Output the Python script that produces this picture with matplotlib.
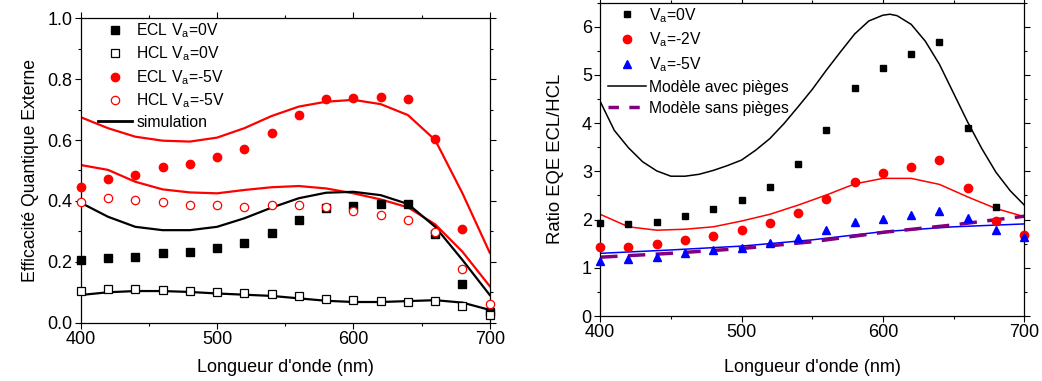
import matplotlib
matplotlib.use("Agg")
import matplotlib.pyplot as plt
from matplotlib.ticker import MultipleLocator

plt.rcParams['font.family'] = ['Liberation Sans', 'DejaVu Sans']
plt.rcParams['mathtext.fontset'] = 'custom'
plt.rcParams['mathtext.rm'] = 'Liberation Sans'
plt.rcParams['mathtext.it'] = 'Liberation Sans'

# ---------------- data: left panel ----------------
wl = [400, 420, 440, 460, 480, 500, 520, 540, 560, 580, 600, 620, 640, 660, 680, 700]
ecl_0v = [0.206, 0.211, 0.217, 0.228, 0.232, 0.245, 0.262, 0.295, 0.336, 0.376, 0.384, 0.389, 0.389, 0.290, 0.126, 0.036]
hcl_0v = [0.105, 0.112, 0.110, 0.107, 0.104, 0.101, 0.096, 0.093, 0.088, 0.079, 0.074, 0.070, 0.067, 0.072, 0.056, 0.025]
wl_ecl5 = [400, 420, 440, 460, 480, 500, 520, 540, 560, 580, 600, 620, 640, 660, 680]
ecl_5v = [0.447, 0.472, 0.486, 0.510, 0.521, 0.545, 0.572, 0.624, 0.682, 0.736, 0.739, 0.740, 0.736, 0.605, 0.308]
hcl_5v = [0.398, 0.411, 0.403, 0.398, 0.386, 0.386, 0.381, 0.388, 0.388, 0.381, 0.367, 0.354, 0.338, 0.299, 0.177, 0.061]

sim_ecl_5v = [0.675, 0.639, 0.611, 0.598, 0.595, 0.608, 0.639, 0.679, 0.710, 0.726, 0.732, 0.718, 0.682, 0.600, 0.425, 0.230]
sim_hcl_5v = [0.518, 0.502, 0.463, 0.438, 0.428, 0.425, 0.436, 0.445, 0.449, 0.441, 0.425, 0.405, 0.379, 0.323, 0.233, 0.120]
sim_ecl_0v = [0.394, 0.348, 0.315, 0.304, 0.304, 0.315, 0.343, 0.378, 0.409, 0.427, 0.430, 0.419, 0.390, 0.315, 0.206, 0.091]
sim_hcl_0v = [0.091, 0.100, 0.104, 0.104, 0.101, 0.096, 0.092, 0.088, 0.080, 0.072, 0.068, 0.068, 0.071, 0.074, 0.066, 0.042]

# ---------------- data: right panel ----------------
wl_r0 = [400, 420, 440, 460, 480, 500, 520, 540, 560, 580, 600, 620, 640, 660, 680]
ratio_0v = [1.935, 1.90, 1.956, 2.08, 2.22, 2.40, 2.68, 3.145, 3.85, 4.74, 5.14, 5.43, 5.69, 3.91, 2.27]
ratio_2v = [1.43, 1.43, 1.49, 1.58, 1.66, 1.78, 1.935, 2.14, 2.43, 2.78, 2.96, 3.10, 3.235, 2.66, 1.98, 1.67]
ratio_5v = [1.15, 1.175, 1.22, 1.30, 1.37, 1.42, 1.51, 1.62, 1.78, 1.96, 2.02, 2.10, 2.18, 2.03, 1.78, 1.645]

wl_mt = [400, 410, 420, 430, 440, 450, 460, 470, 480, 490, 500, 510, 520, 530, 540, 550, 560, 570,
         580, 590, 600, 605, 610, 620, 630, 640, 650, 660, 670, 680, 690, 700]
model_traps = [4.45, 3.85, 3.49, 3.20, 3.01, 2.90, 2.90, 2.94, 3.02, 3.12, 3.235, 3.44, 3.68, 3.99, 4.34, 4.70, 5.10, 5.48,
               5.85, 6.12, 6.24, 6.26, 6.23, 6.05, 5.70, 5.22, 4.62, 4.02, 3.47, 2.98, 2.60, 2.30]
model_2v = [2.11, 1.85, 1.78, 1.80, 1.85, 1.97, 2.11, 2.30, 2.51, 2.74, 2.855, 2.855, 2.73, 2.47, 2.23, 2.06]
wl_m5 = [400, 450, 500, 550, 600, 650, 700]
model_5v = [1.30, 1.37, 1.45, 1.58, 1.75, 1.85, 1.91]
model_notraps = [1.22, 1.30, 1.40, 1.54, 1.735, 1.89, 2.07]

fig = plt.figure(figsize=(10.42, 3.81), dpi=100)
ax1 = fig.add_axes([0.0775, 0.153, 0.3925, 0.799])
ax2 = fig.add_axes([0.576, 0.1706, 0.407, 0.8224])

RED = '#ff0000'
BLUE = '#0000ff'
PURPLE = '#800080'

# left panel
ax1.plot(wl, sim_ecl_5v, color=RED, lw=1.6, zorder=2)
ax1.plot(wl, sim_hcl_5v, color=RED, lw=1.6, zorder=2)
ax1.plot(wl, sim_ecl_0v, color='black', lw=1.6, zorder=2)
ax1.plot(wl, sim_hcl_0v, color='black', lw=1.6, zorder=2)
h1, = ax1.plot(wl, ecl_0v, 's', color='black', ms=5.5, ls='none', zorder=3, clip_on=False)
h2, = ax1.plot(wl, hcl_0v, 's', mfc='white', mec='black', mew=0.9, ms=5.5, ls='none', zorder=3, clip_on=False)
h3, = ax1.plot(wl_ecl5, ecl_5v, 'o', color=RED, ms=6, ls='none', zorder=3, clip_on=False)
h4, = ax1.plot(wl, hcl_5v, 'o', mfc='white', mec=RED, mew=0.9, ms=6, ls='none', zorder=3, clip_on=False)
h5, = ax1.plot([], [], color='black', lw=2)

ax1.set_xlim(400, 700)
ax1.set_ylim(0, 1.0)
ax1.xaxis.set_major_locator(MultipleLocator(100))
ax1.xaxis.set_minor_locator(MultipleLocator(50))
ax1.yaxis.set_major_locator(MultipleLocator(0.2))
ax1.yaxis.set_minor_locator(MultipleLocator(0.1))
ax1.yaxis.set_major_formatter(matplotlib.ticker.FormatStrFormatter('%.1f'))
ax1.set_xlabel("Longueur d'onde (nm)", fontsize=13, labelpad=8)
ax1.set_ylabel("Efficacité Quantique Externe", fontsize=12.7, labelpad=6)
ax1.legend([h1, h2, h3, h4, h5],
           ['ECL V$_\\mathrm{a}$=0V', 'HCL V$_\\mathrm{a}$=0V', 'ECL V$_\\mathrm{a}$=-5V',
            'HCL V$_\\mathrm{a}$=-5V', 'simulation'],
           loc='upper left', bbox_to_anchor=(0.042, 0.99), frameon=False, fontsize=11.3,
           handlelength=2.2, handletextpad=0.25, labelspacing=0.3, borderpad=0, borderaxespad=0)

# right panel
ax2.plot(wl_mt, model_traps, color='black', lw=1.1, zorder=2)
ax2.plot(wl, model_2v, color=RED, lw=1.1, zorder=2)
ax2.plot(wl_m5, model_5v, color=BLUE, lw=1.1, zorder=2)
ax2.plot(wl_m5, model_notraps, color=PURPLE, lw=2.5, ls=(0, (5, 3)), zorder=2)
g1, = ax2.plot(wl_r0, ratio_0v, 's', color='black', ms=5, ls='none', zorder=3, clip_on=False)
g2, = ax2.plot(wl, ratio_2v, 'o', color=RED, ms=6, ls='none', zorder=3, clip_on=False)
g3, = ax2.plot(wl, ratio_5v, '^', color=BLUE, ms=6, ls='none', zorder=3, clip_on=False)
g4, = ax2.plot([], [], color='black', lw=1.1)
g5, = ax2.plot([], [], color=PURPLE, lw=2.5, ls=(0, (3, 3)))

ax2.set_xlim(400, 700)
ax2.set_ylim(0, 6.5)
ax2.xaxis.set_major_locator(MultipleLocator(100))
ax2.xaxis.set_minor_locator(MultipleLocator(50))
ax2.yaxis.set_major_locator(MultipleLocator(1))
ax2.yaxis.set_minor_locator(MultipleLocator(0.5))
ax2.set_xlabel("Longueur d'onde (nm)", fontsize=13, labelpad=13)
ax2.set_ylabel("Ratio EQE ECL/HCL", fontsize=13.3, labelpad=13)
ax2.legend([g1, g2, g3, g4, g5],
           ['V$_\\mathrm{a}$=0V', 'V$_\\mathrm{a}$=-2V', 'V$_\\mathrm{a}$=-5V',
            'Modèle avec pièges', 'Modèle sans pièges'],
           loc='upper left', bbox_to_anchor=(0.019, 0.99), frameon=False, fontsize=11.3,
           handlelength=2.4, handletextpad=0.2, labelspacing=0.38, borderpad=0, borderaxespad=0)

for ax in (ax1, ax2):
    ax.tick_params(which='both', direction='out', top=True, right=True, labelsize=13, pad=2)
    ax.tick_params(which='major', length=4, width=0.8)
    ax.tick_params(which='minor', length=2.5, width=0.8)
    for s in ax.spines.values():
        s.set_linewidth(0.9)

fig.savefig('out.png', dpi=100)
